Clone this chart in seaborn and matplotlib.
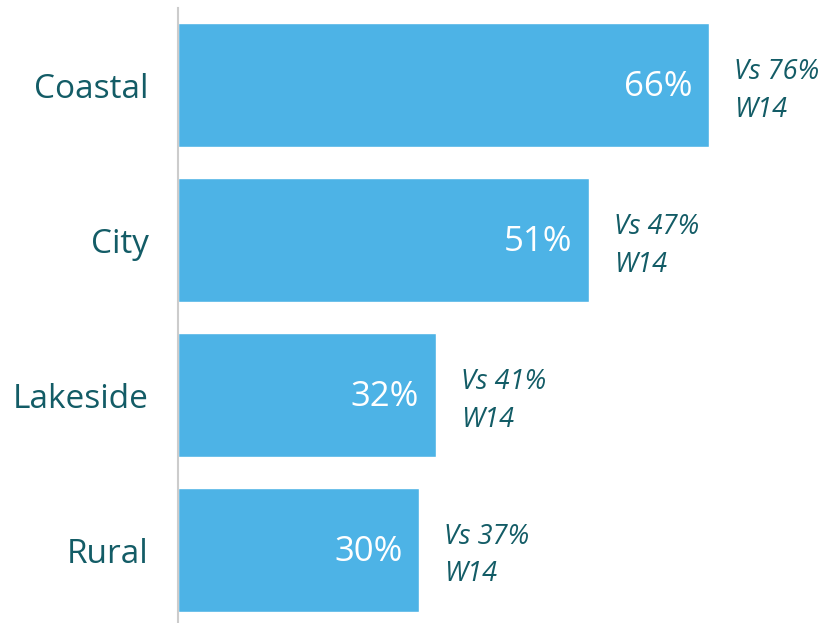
import matplotlib
matplotlib.use("Agg")
import matplotlib.pyplot as plt
import seaborn as sns
import pandas as pd

# Dados do gráfico
regioes = ["Coastal", "City", "Lakeside", "Rural"]
valores = [66, 51, 32, 30]
valores_anteriores = [76, 47, 41, 37]
onda_anterior = "W14"

cor_barra = "#4db3e6"
cor_texto = "#135c66"

sns.set_style("white")
plt.rcParams['font.family'] = ['Open Sans', 'DejaVu Sans']

df = pd.DataFrame({"regiao": regioes, "valor": valores})

fig = plt.figure(figsize=(8.28, 6.23), dpi=100)
ax = fig.add_axes([178 / 828, 0, 650 / 828, 615 / 623])

sns.barplot(data=df, x="valor", y="regiao", orient="h", color=cor_barra,
            saturation=1, width=0.8, ax=ax)

ax.set_xlim(0, 650 / 8.05)
ax.set_ylim(3.47, -0.5)

# Rótulos de valor e comparação
for i, (v, ant) in enumerate(zip(valores, valores_anteriores)):
    ax.annotate(f"{v}%", xy=(v, i), xytext=(-12, -1), textcoords="offset points",
                ha="right", va="center", color="white", fontsize=25)
    ax.annotate(f"Vs {ant}%\n{onda_anterior}", xy=(v, i), xytext=(18, -4),
                textcoords="offset points", ha="left", va="center",
                color=cor_texto, fontsize=19.5, style="italic", linespacing=1.45)

ax.set_xlabel("")
ax.set_ylabel("")
ax.set_xticks([])
ax.tick_params(axis="y", length=0, pad=21, labelsize=24, labelcolor=cor_texto)

for lado in ["top", "right", "bottom"]:
    ax.spines[lado].set_visible(False)
ax.spines["left"].set_color("#cccccc")
ax.spines["left"].set_linewidth(1.5)

fig.savefig("out.png", dpi=100)
